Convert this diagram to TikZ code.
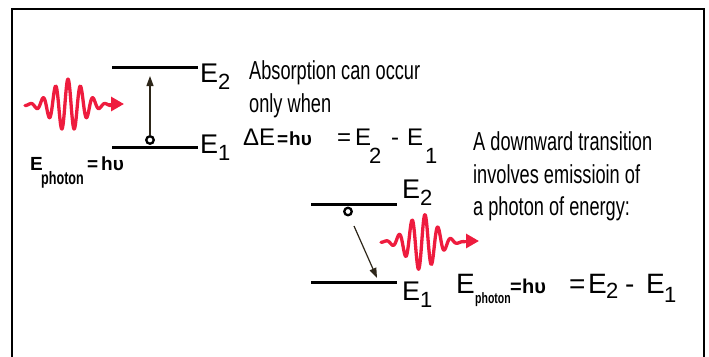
\documentclass[tikz,border=0pt]{standalone}
\usepackage{fontspec}
\setmainfont{Liberation Sans}
\newfontfamily\nar{Liberation Sans}[FakeStretch=0.7]
\usetikzlibrary{arrows.meta}
\definecolor{wavered}{RGB}{238,28,62}
\definecolor{arrowcol}{RGB}{45,38,25}
\newcommand\lsub[2]{\raisebox{#1}{\fontsize{22}{22}\selectfont #2}}
\begin{document}
\begin{tikzpicture}[x=1pt,y=-1pt,
  txt/.style={anchor=base west, inner sep=0pt, font=\nar\fontsize{26}{26}\selectfont},
  lbl/.style={anchor=base west, inner sep=0pt, font=\fontsize{27}{27}\selectfont},
  eqbig/.style={anchor=base west, inner sep=0pt, font=\fontsize{24}{24}\selectfont},
  eqbigr/.style={anchor=base west, inner sep=0pt, font=\fontsize{28}{28}\selectfont},
  eqbold/.style={anchor=base west, inner sep=0pt, font=\bfseries\fontsize{19}{19}\selectfont},
  eqboldr/.style={anchor=base west, inner sep=0pt, font=\bfseries\fontsize{20}{20}\selectfont},
  subph/.style={anchor=base west, inner sep=0pt, font=\nar\bfseries\fontsize{15}{15}\selectfont},
  subphl/.style={anchor=base west, inner sep=0pt, font=\nar\bfseries\fontsize{18}{18}\selectfont},
  level/.style={line width=3pt, black},
  wave/.style={wavered, line width=3.3pt, line cap=round, line join=round},
  wavetip/.style={wavered, line width=3pt, -{Triangle[length=13pt,width=14pt]}},
  trans/.style={arrowcol, line width=1.2pt, -{Triangle[length=10pt,width=7pt]}},
  elec/.style={circle, draw=black, line width=2.3pt, minimum size=7.5pt, inner sep=0pt, fill=white},
]
\useasboundingbox (0,0) rectangle (709,356);
\draw[line width=2.5pt] (12,362) -- (12,9) -- (704,9) -- (704,362);

% ---------- absorption ----------
\coordinate (a2l) at (112,67); \coordinate (a2r) at (198,67);
\coordinate (a1l) at (112,147); \coordinate (a1r) at (198,147);
\draw[level] (a2l) -- (a2r);
\draw[level] (a1l) -- (a1r);
\node[lbl] (la2) at (200,82) {E\lsub{-7pt}{2}};
\node[lbl] (la1) at (200,153) {E\lsub{-7pt}{1}};
\node[elec] (ea) at (150,140) {};
\coordinate (ta) at (150,76);
\draw[trans] (ea.north) -- (ta);

\draw[wave] plot[domain=25:111, samples=220, smooth]
  (\x, {105 - 26*exp(-((\x-68)/22)^2)*cos(360*(\x-68)/12.5)});
\coordinate (wa1) at (109,104); \coordinate (wa2) at (124,104);
\draw[wavetip] (wa1) -- (wa2);

\node[eqbold] (ph1) at (30,170) {E};
\node[subphl] (ph1s) at (41,184) {photon};
\node[eqbold] (ph1e) at (87,170) {=};
\node[eqbold] (ph1h) at (101,170) {hυ};

\node[txt] (t1) at (249,79) {Absorption can occur};
\node[txt] (t2) at (249,112) {only when};
\node[eqbig] (q1) at (243,145) {ΔE};
\node[eqbold] (q2) at (277,145) {=};
\node[eqbold] (q3) at (289,145) {hυ};
\node[eqbig] (q4) at (337,145) {=};
\node[eqbig] (q5) at (355,145) {E};
\node[eqbig] (q6) at (369,145) {\lsub{-18pt}{2}};
\node[eqbig] (q7) at (391,145) {-};
\node[eqbig] (q8) at (407,145) {E};
\node[eqbig] (q9) at (425,145) {\lsub{-18pt}{1}};

% ---------- emission ----------
\coordinate (b2l) at (311,204); \coordinate (b2r) at (397,204);
\coordinate (b1l) at (311,282); \coordinate (b1r) at (397,282);
\draw[level] (b2l) -- (b2r);
\draw[level] (b1l) -- (b1r);
\node[lbl] (lb2) at (402,198) {E\lsub{-7pt}{2}};
\node[lbl] (lb1) at (402,300) {E\lsub{-7pt}{1}};
\node[elec] (eb) at (348,211.5) {};
\coordinate (sb) at (354,226); \coordinate (tb) at (377,278);
\draw[trans] (sb) -- (tb);

\draw[wave] plot[domain=381:465, samples=220, smooth]
  (\x, {242 - 28*exp(-((\x-422)/20)^2)*cos(360*(\x-425)/13)});
\coordinate (wb1) at (463,241); \coordinate (wb2) at (479,241);
\draw[wavetip] (wb1) -- (wb2);

\node[txt] (t3) at (473,150) {A downward transition};
\node[txt] (t4) at (473,183) {involves emissioin of};
\node[txt] (t5) at (473,215) {a photon of energy:};

\node[eqbigr] (r1) at (456,293) {E};
\node[subph] (r1s) at (475,303) {photon};
\node[eqboldr] (r2) at (510,293) {=};
\node[eqboldr] (r3) at (522,293) {hυ};
\node[eqbigr] (r4) at (569,293) {=};
\node[eqbigr] (r5) at (588,293) {E};
\node[eqbigr] (r6) at (606,293) {\lsub{-5pt}{2}};
\node[eqbigr] (r7) at (625,293) {-};
\node[eqbigr] (r8) at (646,293) {E};
\node[eqbigr] (r9) at (664,293) {\lsub{-9pt}{1}};
\end{tikzpicture}
\end{document}
